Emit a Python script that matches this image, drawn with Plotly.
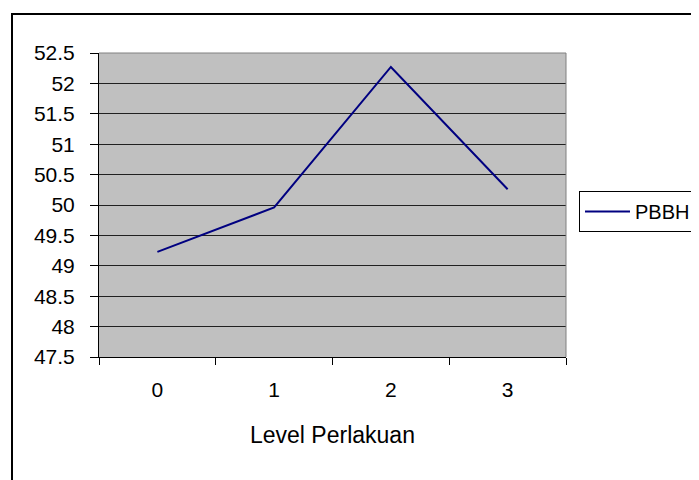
import plotly.graph_objects as go

categories = ["0", "1", "2", "3"]
pbbh = [49.23, 49.96, 52.27, 50.26]
y_ticks = [47.5, 48, 48.5, 49, 49.5, 50, 50.5, 51, 51.5, 52, 52.5]
y_tick_labels = ["47.5", "48", "48.5", "49", "49.5", "50", "50.5", "51", "51.5", "52", "52.5"]
series_name = "PBBH"
x_title = "Level Perlakuan"

FONT = "Liberation Sans, Arial, sans-serif"

# page body has an 8px margin; figure sized to fit the 699x480 window
OFF = 8
W, H = 699 - OFF, 480 - OFF
# plot area in screen pixels: x 99..566, y 53..357
SL, ST, SR, SB = 99, 53, 566, 357
L, T = SL - OFF, ST - OFF
pw, ph = SR - SL, SB - ST
R, B = W - L - pw, H - T - ph

def px_x(p):
    return (p - SL) / pw

def px_y(p):
    return (SB - p) / ph

fig = go.Figure()
fig.add_trace(go.Scatter(
    x=categories, y=pbbh, mode="lines", name=series_name,
    line=dict(color="#000080", width=2),
))

fig.update_layout(
    width=W, height=H,
    margin=dict(l=L, r=R, t=T, b=B, pad=0, autoexpand=False),
    paper_bgcolor="white",
    plot_bgcolor="#C0C0C0",
    font=dict(family=FONT, size=21, color="black"),
    showlegend=True,
    legend=dict(
        xref="container", yref="container",
        x=(579 - OFF) / W, y=1 - (191 - OFF) / H, xanchor="left", yanchor="top",
        bgcolor="white", bordercolor="black", borderwidth=1,
        font=dict(family=FONT, size=20, color="black"),
        itemwidth=45,
    ),
    xaxis=dict(
        type="category", range=[-0.5, 3.5], automargin=False,
        tickmode="array", tickvals=categories, ticktext=categories,
        tickson="boundaries", ticks="outside", ticklen=7, tickcolor="black", tickwidth=1,
        showline=True, linecolor="black", linewidth=1,
        showgrid=False, zeroline=False,
        ticklabelstandoff=14,
        tickfont=dict(family=FONT, size=21, color="black"),
    ),
    yaxis=dict(
        range=[47.5, 52.5], automargin=False,
        tickmode="array", tickvals=y_ticks, ticktext=y_tick_labels,
        ticks="outside", ticklen=8, tickcolor="black", tickwidth=1,
        showline=True, linecolor="black", linewidth=1,
        showgrid=True, gridcolor="#202020", gridwidth=1,
        zeroline=False,
        ticklabelstandoff=11,
        tickfont=dict(family=FONT, size=21, color="black"),
    ),
    shapes=[
        dict(type="line", xref="paper", yref="paper", x0=0, x1=1, y0=1, y1=1,
             line=dict(color="#808080", width=1)),
        dict(type="line", xref="paper", yref="paper", x0=1, x1=1, y0=0, y1=1,
             line=dict(color="#808080", width=1)),
        dict(type="rect", xref="paper", yref="paper",
             x0=px_x(12), x1=px_x(760), y0=px_y(14), y1=px_y(540),
             line=dict(color="black", width=2), layer="below"),
    ],
    annotations=[
        dict(text=x_title, xref="paper", yref="paper", x=0.5, y=px_y(435),
             xanchor="center", yanchor="middle", showarrow=False,
             font=dict(family=FONT, size=23, color="black")),
    ],
)

fig.write_html("out.html")
